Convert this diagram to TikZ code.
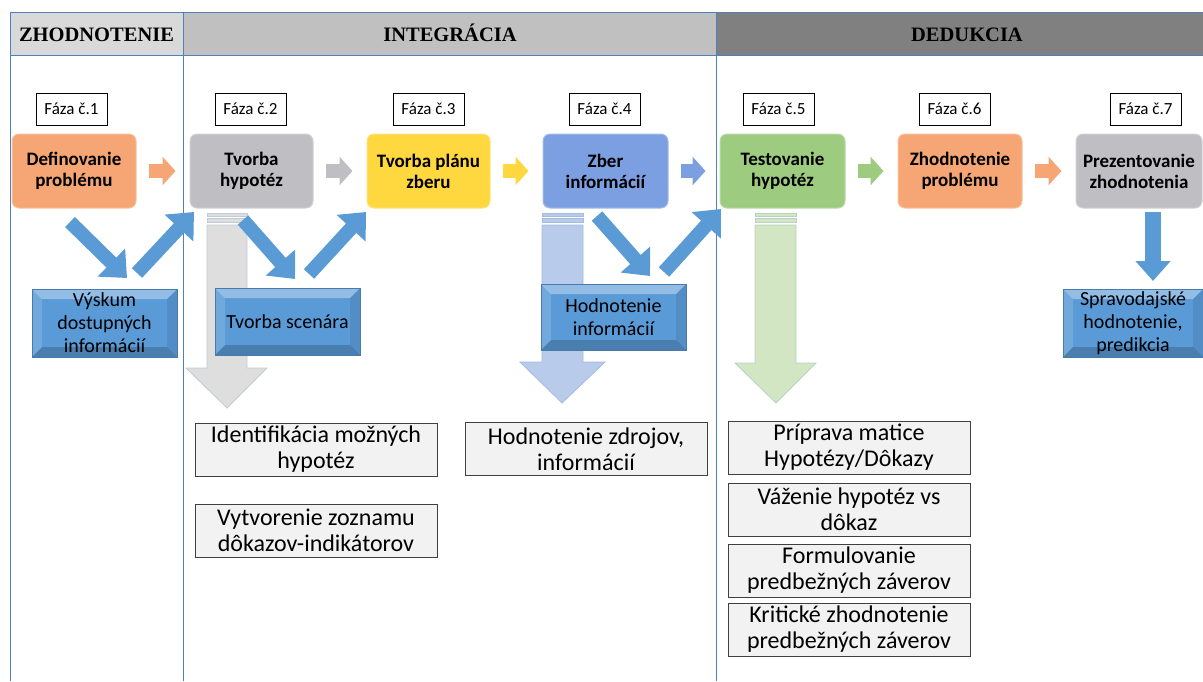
\documentclass[tikz,border=0pt]{standalone}
\usepackage{fontspec}
\setmainfont{Carlito}
\newfontfamily\hdrfont{Liberation Serif}
\usetikzlibrary{arrows.meta}
\definecolor{frameblue}{HTML}{4F81BD}
\definecolor{hdA}{HTML}{D9D9D9}
\definecolor{hdB}{HTML}{C0C0C0}
\definecolor{hdC}{HTML}{808080}
\definecolor{cOrange}{HTML}{F5A674}
\definecolor{cGray}{HTML}{BEBEC3}
\definecolor{cYellow}{HTML}{FFD73F}
\definecolor{cBlue}{HTML}{7B9FE0}
\definecolor{cGreen}{HTML}{9DCB80}
\definecolor{aBlue}{HTML}{5B9BD5}
\definecolor{bvBlue}{HTML}{5A9AD6}
\definecolor{tGray}{HTML}{F2F2F2}
\definecolor{gGray}{HTML}{DEDEDE}
\definecolor{gBlue}{HTML}{B8CBEA}
\definecolor{gGreen}{HTML}{D2E6C4}
\begin{document}
\begin{tikzpicture}[x=1pt,y=-1pt,
  frame/.style={draw=frameblue,line width=0.8pt},
  hdr/.style={font=\hdrfont\bfseries\fontsize{20.5}{22}\selectfont,inner sep=0pt,anchor=base},
  faza/.style={draw=black,fill=white,line width=0.8pt,minimum width=71pt,minimum height=32pt,inner sep=0pt,font=\fontsize{17}{19}\selectfont},
  mainbox/.style={rounded corners=7pt,fill=#1,draw=#1!70!white,line width=1pt,minimum height=74pt,inner sep=0pt,align=center,font=\bfseries\fontsize{19}{21}\selectfont},
  smallarrow/.style={draw=#1,line width=14pt,-{Triangle[length=13pt,width=28pt]},shorten <=12pt,shorten >=14pt},
  bluearrow/.style={draw=aBlue,line width=14pt,-{Triangle[length=22pt,width=38pt]}},
  bevel/.style={fill=bvBlue,draw=bvBlue!80!black,line width=0.5pt,inner sep=0pt,align=center,font=\fontsize{20}{23}\selectfont,
    path picture={
      \fill[white,opacity=0.35] (path picture bounding box.north west) -- (path picture bounding box.north east) -- ([xshift=-10pt,yshift=-10pt]path picture bounding box.north east) -- ([xshift=10pt,yshift=-10pt]path picture bounding box.north west) -- cycle;
      \fill[white,opacity=0.15] (path picture bounding box.north west) -- (path picture bounding box.south west) -- ([xshift=10pt,yshift=10pt]path picture bounding box.south west) -- ([xshift=10pt,yshift=-10pt]path picture bounding box.north west) -- cycle;
      \fill[black,opacity=0.18] (path picture bounding box.south west) -- (path picture bounding box.south east) -- ([xshift=-10pt,yshift=10pt]path picture bounding box.south east) -- ([xshift=10pt,yshift=10pt]path picture bounding box.south west) -- cycle;
      \fill[black,opacity=0.08] (path picture bounding box.north east) -- (path picture bounding box.south east) -- ([xshift=-10pt,yshift=10pt]path picture bounding box.south east) -- ([xshift=-10pt,yshift=-10pt]path picture bounding box.north east) -- cycle;
    }},
  tbox/.style={fill=tGray,draw=black!75,line width=0.8pt,minimum width=242pt,minimum height=53pt,inner sep=0pt,align=center,font=\fontsize{24}{26}\selectfont},
  bigarrow/.style={fill=#1,draw=#1!80!frameblue,line width=0.8pt}
]
\useasboundingbox (0,0) rectangle (1203,681);
% header band
\fill[hdA] (10,12) rectangle (183,55);
\fill[hdB] (183,12) rectangle (716,55);
\fill[hdC] (716,12) rectangle (1203,55);
\draw[frame] (10,12) -- (1203,12);
\draw[frame] (10,55) -- (1203,55);
\draw[frame] (10,12) -- (10,681);
\draw[frame] (183,12) -- (183,681);
\draw[frame] (716,12) -- (716,681);
\node[hdr] (h1) at (96.5,41) {ZHODNOTENIE};
\node[hdr] (h2) at (450,41) {INTEGRÁCIA};
\node[hdr] (h3) at (967,41) {DEDUKCIA};
% phase labels
\node[faza] (f1) at (71.5,109) {Fáza č.1};
\node[faza] (f2) at (250.5,109) {Fáza č.2};
\node[faza] (f3) at (428.5,109) {Fáza č.3};
\node[faza] (f4) at (604.5,109) {Fáza č.4};
\node[faza] (f5) at (778.5,109) {Fáza č.5};
\node[faza] (f6) at (954.5,109) {Fáza č.6};
\node[faza] (f7) at (1145.5,109) {Fáza č.7};
% big hollow arrows (behind)
\filldraw[bigarrow=gGray] (207,213) rectangle (247,216);
\filldraw[bigarrow=gGray] (207,218) rectangle (247,222);
\filldraw[bigarrow=gGray] (207,225) -- (247,225) -- (247,368) -- (267,368) -- (227,408) -- (186,368) -- (207,368) -- cycle;
\filldraw[bigarrow=gBlue] (542,213) rectangle (583,216);
\filldraw[bigarrow=gBlue] (542,218) rectangle (583,222);
\filldraw[bigarrow=gBlue] (542,225) -- (583,225) -- (583,362) -- (605,362) -- (562,403) -- (520,362) -- (542,362) -- cycle;
\filldraw[bigarrow=gGreen] (755,213) rectangle (796,216);
\filldraw[bigarrow=gGreen] (755,218) rectangle (796,222);
\filldraw[bigarrow=gGreen] (755,225) -- (796,225) -- (796,363) -- (816,363) -- (776,403) -- (735,363) -- (755,363) -- cycle;
% main boxes
\node[mainbox=cOrange,minimum width=124pt] (b1) at (74,171) {Definovanie\\problému};
\node[mainbox=cGray,minimum width=123pt] (b2) at (251.5,171) {Tvorba\\hypotéz};
\node[mainbox=cYellow,minimum width=123pt] (b3) at (428.5,171) {Tvorba plánu\\zberu};
\node[mainbox=cBlue,minimum width=125pt] (b4) at (605.5,171) {Zber\\informácií};
\node[mainbox=cGreen,minimum width=125pt] (b5) at (782.5,171) {Testovanie\\hypotéz};
\node[mainbox=cOrange,minimum width=124pt] (b6) at (960,171) {Zhodnotenie\\problému};
\node[mainbox=cGray,minimum width=126pt] (b7) at (1139,171) {Prezentovanie\\zhodnotenia};
% small arrows between boxes
\draw[smallarrow=cOrange] (b1) -- (b2);
\draw[smallarrow=cGray] (b2) -- (b3);
\draw[smallarrow=cYellow] (b3) -- (b4);
\draw[smallarrow=cBlue] (b4) -- (b5);
\draw[smallarrow=cGreen] (b5) -- (b6);
\draw[smallarrow=cOrange] (b6) -- (b7);
% bevel boxes
\node[bevel,minimum width=145pt,minimum height=68pt] (v1) at (104.5,323) {Výskum\\dostupných\\informácií};
\node[bevel,minimum width=145pt,minimum height=67pt] (v2) at (287.5,321.5) {Tvorba scenára};
\node[bevel,minimum width=145pt,minimum height=66pt] (v3) at (613.5,317) {Hodnotenie\\informácií};
\node[bevel,minimum width=140pt,minimum height=68pt] (v4) at (1133,323) {Spravodajské\\hodnotenie,\\predikcia};
% blue diagonal arrows
\coordinate (d1s) at (70,222); \coordinate (d1e) at (127,278);
\coordinate (u1s) at (137,273); \coordinate (u1e) at (194,212);
\coordinate (d2s) at (243,220); \coordinate (d2e) at (295,279);
\coordinate (u2s) at (309,274); \coordinate (u2e) at (366,212);
\coordinate (d3s) at (597,216); \coordinate (d3e) at (650,276);
\coordinate (u3s) at (664,272); \coordinate (u3e) at (721,209);
\coordinate (v7s) at (1153,212); \coordinate (v7e) at (1153,281);
\draw[bluearrow] (d1s) -- (d1e);
\draw[bluearrow] (u1s) -- (u1e);
\draw[bluearrow] (d2s) -- (d2e);
\draw[bluearrow] (u2s) -- (u2e);
\draw[bluearrow] (d3s) -- (d3e);
\draw[bluearrow] (u3s) -- (u3e);
\draw[draw=aBlue,line width=16pt,-{Triangle[length=20pt,width=34pt]}] (v7s) -- (v7e);
% text boxes
\node[tbox] (t1) at (316,449.5) {Identifikácia možných\\hypotéz};
\node[tbox] (t2) at (316,530.5) {Vytvorenie zoznamu\\dôkazov-indikátorov};
\node[tbox] (t3) at (586,449) {Hodnotenie zdrojov,\\informácií};
\node[tbox] (t4) at (849,447.5) {Príprava matice\\Hypotézy/Dôkazy};
\node[tbox] (t5) at (849,509.5) {Váženie hypotéz vs\\dôkaz};
\node[tbox] (t6) at (849,570.5) {Formulovanie\\predbežných záverov};
\node[tbox] (t7) at (849,629.5) {Kritické zhodnotenie\\predbežných záverov};
\end{tikzpicture}
\end{document}
